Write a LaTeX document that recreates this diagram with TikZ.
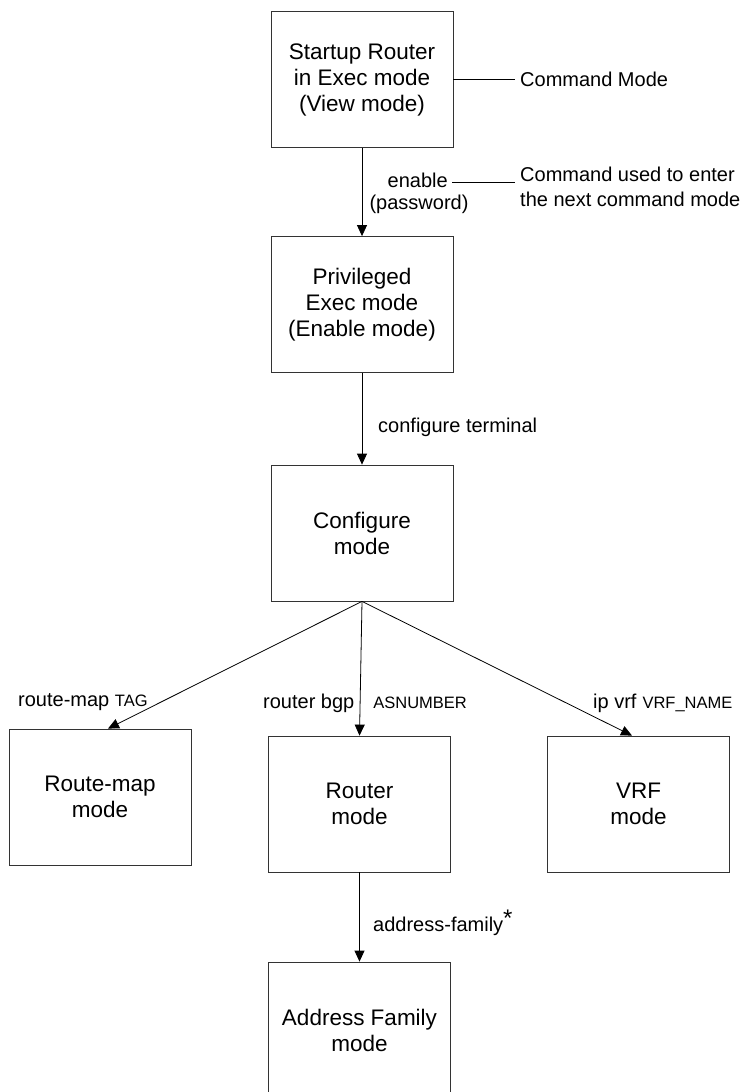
\documentclass[tikz,border=0pt]{standalone}
\usepackage{fontspec}
\setmainfont{Liberation Sans}
\usetikzlibrary{arrows.meta,calc}
\begin{document}
\begin{tikzpicture}[x=1pt,y=-1pt,
  modebox/.style={draw=black!80, line width=0.8pt, minimum width=182pt, minimum height=136pt,
    align=center, inner sep=0pt, font=\fontsize{22.5}{26}\selectfont},
  lbl/.style={inner sep=0pt, font=\fontsize{20}{25}\selectfont},
  conn/.style={draw=black, line width=0.8pt, -{Triangle[length=11pt,width=10pt]}},
  plain/.style={draw=black, line width=0.8pt}]
\useasboundingbox (0,0) rectangle (739,1092);
\clip (0,0) rectangle (739,1092);
\newcommand{\smallcaps}[1]{{\fontsize{16.5}{20}\selectfont #1}}
% boxes
\node[modebox] (b1) at (362,79.5) {Startup Router\\in Exec mode\\(View mode)};
\node[modebox] (b2) at (362,304.5) {Privileged\\Exec mode\\(Enable mode)};
\node[modebox] (b3) at (362,533) {Configure\\mode};
\node[modebox] (rm) at (100,797) {Route-map\\mode};
\node[modebox] (rt) at (359.5,804) {Router\\mode};
\node[modebox] (vrf) at (638.5,804) {VRF\\mode};
\node[modebox] (af) at (359.5,1030) {Address Family\\mode};
% legend labels
\node[lbl, anchor=west] (cm) at (520,79) {Command Mode};
\draw[plain] (b1.east |- cm.west) -- ($(cm.west)+(-5,0)$);
\node[lbl, anchor=east] (en) at (448,180) {enable};
\node[lbl] (pw) at (419,204) {(password)};
\node[lbl, anchor=west, align=left] (cu) at (520,186.5) {Command used to enter\\the next command mode};
\coordinate (cuL) at ($(cu.west |- en.east)+(-5,2)$);
\draw[plain] ($(en.east)+(4,2)$) -- (cuL);
% arrows
\draw[conn] (b1.south) -- (b2.north);
\node[lbl, anchor=west] (ct) at (378,427) {configure terminal};
\draw[conn] (b2.south) -- (b3.north);
\coordinate (rmT) at ($(rm.north)+(8,0)$);
\coordinate (vrfT) at ($(vrf.north)+(-6.5,0)$);
\draw[conn] (b3.south) -- (rmT);
\draw[conn] (b3.south) -- (rt.north);
\draw[conn] (b3.south) -- (vrfT);
\node[lbl, anchor=west] (l1) at (18,702) {route-map \smallcaps{TAG}};
\node[lbl, anchor=west] (l2) at (263,703) {router bgp\hspace{19pt}\smallcaps{ASNUMBER}};
\node[lbl, anchor=west] (l3) at (593,703) {ip vrf\hspace{6pt}\smallcaps{VRF\_NAME}};
\draw[conn] (rt.south) -- (af.north);
\node[lbl, anchor=west] (l4) at (373,923) {address-family\raisebox{5pt}{\fontsize{24}{24}\selectfont *}};
\end{tikzpicture}
\end{document}
